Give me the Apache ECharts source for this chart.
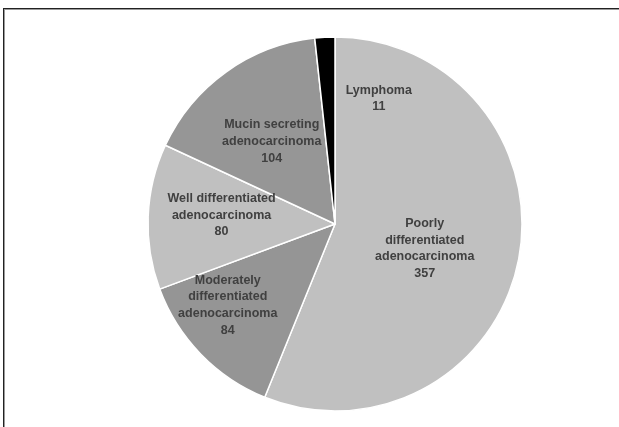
<!DOCTYPE html>
<html>
<head>
<meta charset="utf-8">
<script src="https://cdn.jsdelivr.net/npm/echarts@6/dist/echarts.min.js"></script>
<style>
  html, body { margin: 0; padding: 0; background: #fff; }
  #frame {
    position: absolute; left: 3px; top: 8px; width: 616px; height: 419px;
    border-top: 1px solid #222; border-left: 1px solid #222;
    box-shadow: inset 1px 1px 0 #9a9a9a;
  }
  #chart { position: absolute; left: 0; top: 0; width: 619px; height: 427px; }
</style>
</head>
<body>
<div id="frame"></div>
<div id="chart"></div>
<script>
// Tumour types, clockwise from 12 o'clock
var categories = [
  'Poorly\ndifferentiated\nadenocarcinoma',
  'Moderately\ndifferentiated\nadenocarcinoma',
  'Well differentiated\nadenocarcinoma',
  'Mucin secreting\nadenocarcinoma',
  'Lymphoma'
];
var counts = [357, 84, 80, 104, 11];

// Styling per slice
var sliceColors = ['#c0c0c0', '#959595', '#c0c0c0', '#969696', '#000000'];
// Nudges of each label from its default inside spot
var labelShift = [[-5, 6], [-38, 14], [-17, -5], [-7, -4], [49, -29]];

var chart = echarts.init(document.getElementById('chart'), null, { renderer: 'canvas' });

chart.setOption({
  backgroundColor: 'transparent',
  animation: false,
  series: [{
    type: 'pie',
    center: [335, 224],
    radius: 187,
    startAngle: 90,
    clockwise: true,
    avoidLabelOverlap: false,
    itemStyle: { borderColor: '#ffffff', borderWidth: 1.5 },
    label: {
      show: true,
      position: 'inside',
      formatter: '{b}\n{c}',
      fontFamily: 'Liberation Sans, Arial, sans-serif',
      fontWeight: 'bold',
      fontSize: 12.5,
      lineHeight: 16.6,
      color: '#404040',
      align: 'center'
    },
    labelLine: { show: false },
    labelLayout: function (params) {
      var s = labelShift[params.dataIndex];
      return { dx: s[0], dy: s[1] };
    },
    data: categories.map(function (name, i) {
      return { name: name, value: counts[i], itemStyle: { color: sliceColors[i] } };
    })
  }]
});
</script>
</body>
</html>
